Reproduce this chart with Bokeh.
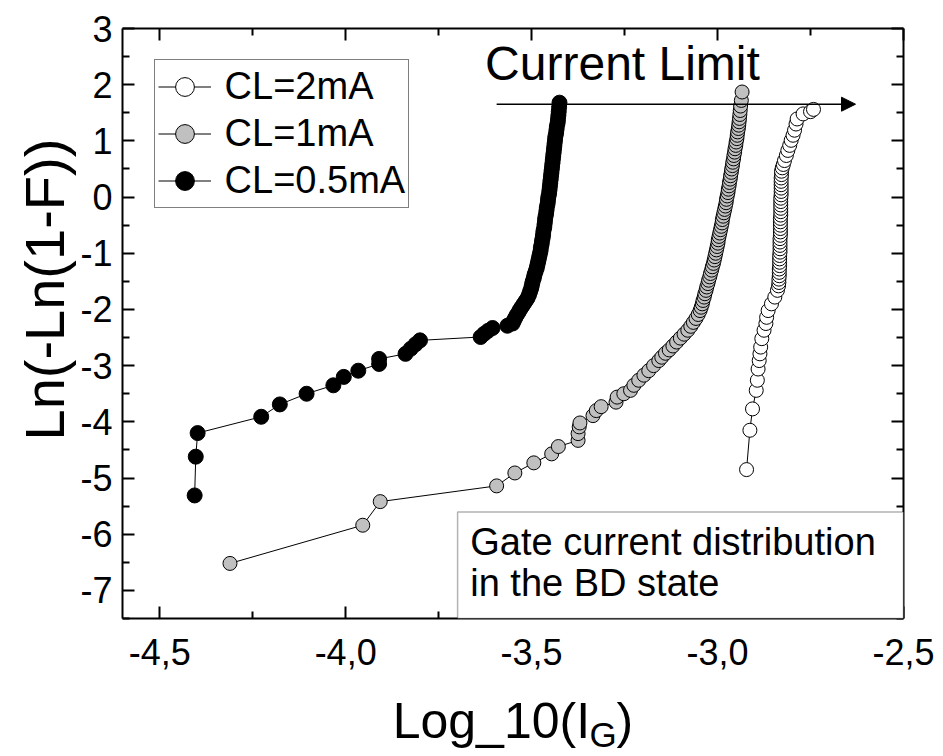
from bokeh.plotting import figure
from bokeh.layouts import column
from bokeh.models import (LinearAxis, FixedTicker, CustomJSTickFormatter, Legend, LegendItem,
                          Label, Arrow, NormalHead, BoxAnnotation, Range1d, Title)
from bokeh.embed import file_html
from bokeh.resources import INLINE

FONT = "Liberation Sans"

# ---------------- data ----------------
series_labels = ["CL=2mA", "CL=1mA", "CL=0.5mA"]

x_cl05 = [-4.406, -4.403, -4.398, -4.227, -4.177, -4.105, -4.033, -4.005, -3.966, -3.910, -3.910,
          -3.839, -3.825, -3.812, -3.800, -3.637, -3.627, -3.617, -3.605, -3.565,
          -3.551, -3.548, -3.544, -3.540, -3.535, -3.531, -3.526, -3.521, -3.516, -3.511,
          -3.507, -3.504, -3.501, -3.499, -3.497, -3.494, -3.492, -3.489, -3.486, -3.484,
          -3.482, -3.480, -3.478, -3.476, -3.475, -3.473, -3.472, -3.470, -3.469, -3.468,
          -3.466, -3.465, -3.464, -3.463, -3.461, -3.460, -3.459, -3.457, -3.456, -3.455,
          -3.453, -3.452, -3.451, -3.450, -3.449, -3.448, -3.447, -3.446, -3.445, -3.444,
          -3.443, -3.442, -3.441, -3.440, -3.439, -3.438, -3.437, -3.436, -3.434, -3.433,
          -3.432, -3.430, -3.429, -3.428, -3.427, -3.426, -3.425]
y_cl05 = [-5.31, -4.62, -4.20, -3.91, -3.69, -3.50, -3.35, -3.20, -3.09, -2.97, -2.88,
          -2.79, -2.70, -2.62, -2.55, -2.49, -2.43, -2.38, -2.33, -2.29,
          -2.25, -2.20, -2.15, -2.10, -2.05, -2.00, -1.95, -1.90, -1.85, -1.80,
          -1.74, -1.68, -1.62, -1.56, -1.50, -1.44, -1.38, -1.32, -1.26, -1.20,
          -1.14, -1.08, -1.02, -0.96, -0.90, -0.84, -0.78, -0.72, -0.66, -0.60,
          -0.54, -0.48, -0.42, -0.36, -0.30, -0.24, -0.18, -0.12, -0.06, 0.00,
          0.06, 0.12, 0.18, 0.24, 0.30, 0.36, 0.42, 0.48, 0.54, 0.60,
          0.66, 0.72, 0.78, 0.84, 0.90, 0.96, 1.02, 1.08, 1.14, 1.20,
          1.26, 1.32, 1.38, 1.45, 1.52, 1.60, 1.68]

x_cl1 = [-4.311, -3.954, -3.907, -3.594, -3.545, -3.494, -3.446, -3.428, -3.375, -3.375,
         -3.372, -3.370, -3.335, -3.326, -3.313, -3.273, -3.270, -3.252, -3.234, -3.225,
         -3.212, -3.198, -3.185, -3.172, -3.158, -3.150, -3.140, -3.130, -3.120, -3.110,
         -3.100, -3.090, -3.080, -3.072, -3.065, -3.058, -3.052, -3.047, -3.044,
         -3.041, -3.039, -3.036, -3.034, -3.031, -3.029, -3.026, -3.024, -3.021, -3.019,
         -3.016, -3.014, -3.011, -3.009, -3.007, -3.005, -3.003, -3.001, -2.999, -2.998,
         -2.996, -2.994, -2.992, -2.990, -2.988, -2.987, -2.985, -2.983, -2.981, -2.979,
         -2.977, -2.976, -2.974, -2.972, -2.971, -2.969, -2.968, -2.966, -2.965, -2.963,
         -2.962, -2.960, -2.959, -2.957, -2.956, -2.954, -2.953, -2.951, -2.950, -2.948,
         -2.947, -2.946, -2.944, -2.943, -2.942, -2.941, -2.940, -2.939, -2.938, -2.936,
         -2.934]
y_cl1 = [-6.52, -5.84, -5.42, -5.14, -4.91, -4.73, -4.57, -4.44, -4.33, -4.21,
         -4.09, -4.02, -3.89, -3.80, -3.73, -3.65, -3.56, -3.50, -3.44, -3.35,
         -3.26, -3.17, -3.09, -3.00, -2.91, -2.85, -2.78, -2.72, -2.65, -2.58,
         -2.51, -2.44, -2.37, -2.30, -2.23, -2.16, -2.09, -2.02, -1.96,
         -1.90, -1.84, -1.78, -1.72, -1.66, -1.60, -1.54, -1.48, -1.42, -1.36,
         -1.30, -1.24, -1.18, -1.12, -1.06, -1.00, -0.94, -0.88, -0.82, -0.76,
         -0.70, -0.64, -0.58, -0.52, -0.46, -0.40, -0.34, -0.28, -0.22, -0.16,
         -0.10, -0.04, 0.02, 0.08, 0.14, 0.20, 0.26, 0.32, 0.38, 0.44,
         0.50, 0.56, 0.62, 0.68, 0.74, 0.80, 0.86, 0.92, 0.98, 1.04,
         1.10, 1.16, 1.22, 1.28, 1.34, 1.40, 1.47, 1.54, 1.62, 1.72,
         1.87]

x_cl2 = [-2.922, -2.913, -2.906, -2.896, -2.893, -2.891, -2.888, -2.886, -2.884, -2.881,
         -2.875, -2.870, -2.868, -2.864, -2.855, -2.846, -2.839,
         -2.836, -2.835, -2.835, -2.834, -2.834, -2.834, -2.833, -2.833, -2.833, -2.833,
         -2.832, -2.832, -2.832, -2.832, -2.832, -2.831, -2.831, -2.831, -2.831, -2.831,
         -2.831, -2.830, -2.830, -2.830, -2.830, -2.830, -2.830, -2.829, -2.829, -2.829,
         -2.829, -2.829, -2.829, -2.828, -2.828, -2.826, -2.823, -2.820, -2.815, -2.811,
         -2.806, -2.802, -2.797, -2.793, -2.789, -2.786, -2.770, -2.750, -2.742]
y_cl2 = [-4.85, -4.15, -3.77, -3.44, -3.26, -3.06, -2.91, -2.79, -2.67, -2.52,
         -2.37, -2.25, -2.14, -2.02, -1.90, -1.78, -1.66,
         -1.58, -1.52, -1.46, -1.40, -1.34, -1.28, -1.22, -1.16, -1.10, -1.04,
         -0.98, -0.92, -0.86, -0.80, -0.74, -0.68, -0.62, -0.56, -0.50, -0.44,
         -0.38, -0.32, -0.26, -0.20, -0.14, -0.08, -0.02, 0.04, 0.10, 0.16,
         0.22, 0.28, 0.34, 0.40, 0.46, 0.52, 0.58, 0.65, 0.74, 0.83,
         0.92, 1.01, 1.10, 1.19, 1.30, 1.39, 1.48, 1.52, 1.56]

x_ticks = [-4.5, -4.0, -3.5, -3.0, -2.5]
x_minor = [-4.25, -3.75, -3.25, -2.75]
y_ticks = [-7, -6, -5, -4, -3, -2, -1, 0, 1, 2, 3]
y_minor = [-7.5, -6.5, -5.5, -4.5, -3.5, -2.5, -1.5, -0.5, 0.5, 1.5, 2.5]

x_title_main, x_title_sub, x_title_end = "Log_10(I", "G", ")"
y_title = "Ln(-Ln(1-F))"

# annotation positions (data units)
arrow_x0, arrow_x1, arrow_y = -3.594, -2.629, 1.653
cl_text_x, cl_text_y = -3.625, 2.38
box_left, box_top = -3.699, -5.603
note_x, note_y1, note_y2 = -3.665, -6.13, -6.87

X_RANGE = (-4.6, -2.5)
Y_RANGE = (-7.5, 3.0)

# ---------------- main figure ----------------
p = figure(width=943, height=688, output_backend="svg", toolbar_location=None,
           x_range=Range1d(*X_RANGE), y_range=Range1d(*Y_RANGE),
           x_axis_location=None, y_axis_location=None,
           min_border_left=122, min_border_right=40, min_border_top=28, min_border_bottom=70)
p.outline_line_color = None
p.grid.visible = False
p.background_fill_color = "white"
p.border_fill_color = "white"


def style_axis(ax, show):
    ax.axis_line_width = 2
    ax.axis_line_color = "black"
    ax.major_tick_in = 12
    ax.major_tick_out = 0
    ax.minor_tick_in = 7
    ax.minor_tick_out = 0
    ax.major_tick_line_width = 2
    ax.minor_tick_line_width = 2
    ax.major_tick_line_color = "black"
    ax.minor_tick_line_color = "black"
    if show:
        ax.major_label_text_font = FONT
        ax.major_label_text_font_size = "36px"
        ax.major_label_text_color = "black"
    else:
        ax.major_label_text_font_size = "0px"
        ax.major_label_standoff = 0
        ax.formatter = CustomJSTickFormatter(code="return '';")


xb = LinearAxis(ticker=FixedTicker(ticks=x_ticks, minor_ticks=x_minor))
style_axis(xb, True)
xb.formatter = CustomJSTickFormatter(code="return tick.toFixed(1).replace('.', ',');")
xb.major_label_standoff = 20
p.add_layout(xb, "below")

xt = LinearAxis(ticker=FixedTicker(ticks=x_ticks, minor_ticks=x_minor))
style_axis(xt, False)
p.add_layout(xt, "above")

yl = LinearAxis(ticker=FixedTicker(ticks=y_ticks, minor_ticks=y_minor))
style_axis(yl, True)
yl.formatter = CustomJSTickFormatter(code="return tick.toFixed(0);")
yl.major_label_standoff = 10
p.add_layout(yl, "left")

p.add_layout(Title(text=y_title, align="left", offset=178, text_font=FONT,
                   text_font_size="56px", text_font_style="normal", text_color="black",
                   standoff=4), "left")

yr = LinearAxis(ticker=FixedTicker(ticks=y_ticks, minor_ticks=y_minor))
style_axis(yr, False)
p.add_layout(yr, "right")

# ---------------- series ----------------
l2 = p.line(x_cl2, y_cl2, line_color="black", line_width=1)
s2 = p.scatter(x_cl2, y_cl2, size=14, fill_color="white", line_color="black", line_width=1)
l1 = p.line(x_cl1, y_cl1, line_color="black", line_width=1)
s1 = p.scatter(x_cl1, y_cl1, size=14, fill_color="#c0c0c0", line_color="black", line_width=1)
l05 = p.line(x_cl05, y_cl05, line_color="black", line_width=1)
s05 = p.scatter(x_cl05, y_cl05, size=15, fill_color="black", line_color="black", line_width=1)

# ---------------- annotations ----------------
p.add_layout(Arrow(end=NormalHead(size=14, fill_color="black", line_color="black"),
                   x_start=arrow_x0, y_start=arrow_y, x_end=arrow_x1, y_end=arrow_y,
                   line_color="black", line_width=1.5))
p.add_layout(Label(x=cl_text_x, y=cl_text_y, text="Current Limit", text_font=FONT,
                   text_font_size="48px", text_color="black", text_baseline="alphabetic"))

p.add_layout(BoxAnnotation(left=box_left, right=X_RANGE[1], top=box_top, bottom=Y_RANGE[0],
                           fill_color="white", fill_alpha=1.0, line_color="black", line_width=1.5))
p.add_layout(Label(x=note_x, y=note_y1, text="Gate current distribution", text_font=FONT,
                   text_font_size="38px", text_color="black", text_baseline="alphabetic"))
p.add_layout(Label(x=note_x, y=note_y2, text="in the BD state", text_font=FONT,
                   text_font_size="38px", text_color="black", text_baseline="alphabetic"))

# ---------------- legend ----------------
legend = Legend(items=[LegendItem(label=series_labels[0], renderers=[l2, s2]),
                       LegendItem(label=series_labels[1], renderers=[l1, s1]),
                       LegendItem(label=series_labels[2], renderers=[l05, s05])],
                location=(31.6, 410.3), margin=0, padding=3, spacing=0,
                glyph_width=53, glyph_height=47, label_height=47, label_standoff=14,
                label_text_font=FONT, label_text_font_size="38px", label_text_color="black",
                border_line_color="black", border_line_width=1.5,
                background_fill_color="white", background_fill_alpha=1.0)
p.add_layout(legend)

# ---------------- x-axis title strip (allows the subscript G) ----------------
# its frame is aligned with the main frame by the column layout, so x range = page pixels
q = figure(width=943, height=68, output_backend="svg", toolbar_location=None,
           x_range=Range1d(121.7, 903.0), y_range=Range1d(0, 68),
           x_axis_location=None, y_axis_location=None, min_border=0)
q.outline_line_color = None
q.grid.visible = False
q.add_layout(Label(x=392, y=36, text=x_title_main, text_font=FONT, text_font_size="50px",
                   text_color="black", text_baseline="alphabetic"))
q.add_layout(Label(x=589, y=22, text=x_title_sub, text_font=FONT, text_font_size="35px",
                   text_color="black", text_baseline="alphabetic"))
q.add_layout(Label(x=616, y=36, text=x_title_end, text_font=FONT, text_font_size="50px",
                   text_color="black", text_baseline="alphabetic"))

layout = column(p, q, spacing=0)
open("out.html", "w").write(file_html(layout, INLINE))
